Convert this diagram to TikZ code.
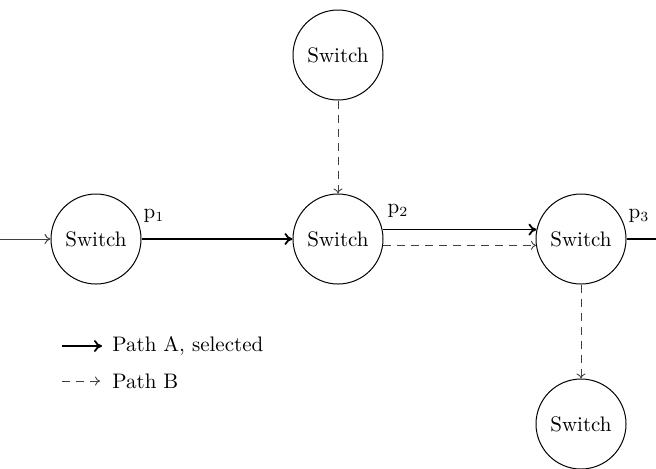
\documentclass[tikz,border=0pt]{standalone}
\usetikzlibrary{arrows.meta}
\begin{document}
\begin{tikzpicture}[x=0.5pt,y=-0.5pt,
  font=\fontsize{10.5}{12}\selectfont,
  switchnode/.style={circle,draw,line width=0.5pt,minimum size=45pt,inner sep=0pt},
  selpath/.style={line width=0.9pt,-{To[length=4pt,width=6pt]}},
  altpath/.style={dashed,line width=0.45pt,draw=black!75,dash pattern=on 4pt off 3pt,-{To[length=2.5pt,width=4.5pt]}},
  inpath/.style={line width=0.5pt,draw=black!75,-{To[length=3pt,width=5pt]}},
  portlabel/.style={inner sep=0pt}]
  \useasboundingbox (0,0) rectangle (656,468);

  % switches
  \node[switchnode] (s1) at (96,239) {Switch};
  \node[switchnode] (s2) at (338,239) {Switch};
  \node[switchnode] (s3) at (581,239) {Switch};
  \node[switchnode] (top) at (338,55) {Switch};
  \node[switchnode] (bot) at (581,424) {Switch};

  % free ends at the picture border
  \coordinate (in) at (0,239);
  \coordinate (out) at (664,239);

  % port labels
  \node[portlabel] (p1) at (154,216) {p$_1$};
  \node[portlabel] (p2) at (398,211) {p$_2$};
  \node[portlabel] (p3) at (639,216) {p$_3$};

  % links
  \draw[inpath] (in) -- (s1.west);
  \draw[selpath] (s1.east) -- (s2.west);
  \draw[selpath] (s2.12) -- (s3.168);
  \draw[altpath] (s2.-8) -- (s3.188);
  \draw[line width=0.9pt] (s3.east) -- (out);
  \draw[altpath] (top.south) -- (s2.north);
  \draw[altpath] (s3.south) -- (bot.north);

  % legend
  \coordinate (la0) at (62,346);
  \coordinate (la1) at (102,346);
  \coordinate (lb0) at (62,381);
  \coordinate (lb1) at (100,381);
  \draw[selpath] (la0) -- (la1);
  \draw[altpath] (lb0) -- (lb1);
  \node[anchor=west,inner sep=0pt] (ta) at (112,346) {Path A, selected};
  \node[anchor=west,inner sep=0pt] (tb) at (112,381) {Path B};
\end{tikzpicture}
\end{document}
